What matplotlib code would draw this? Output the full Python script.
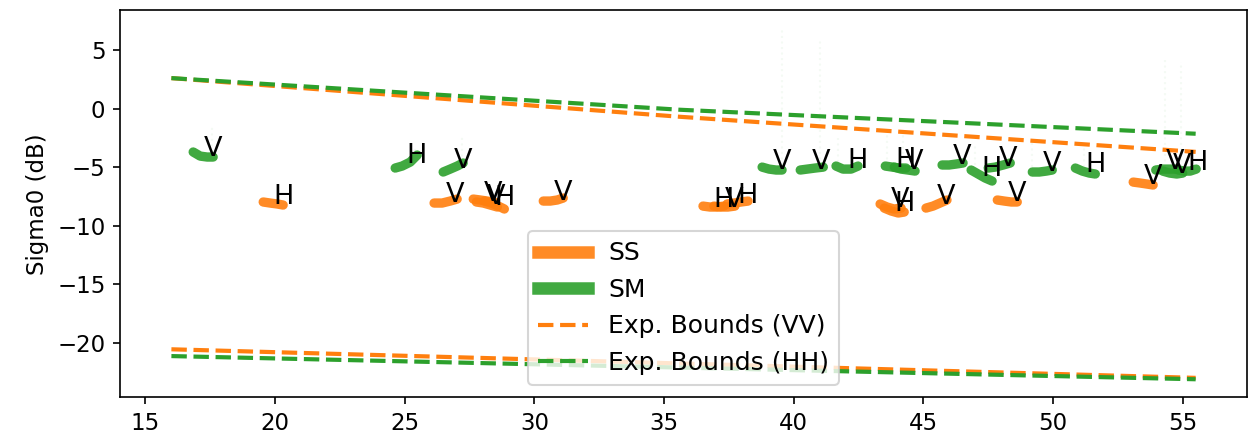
import numpy as np
import matplotlib
matplotlib.use("Agg")
import matplotlib.pyplot as plt
from matplotlib.lines import Line2D

plt.rcParams['font.size'] = 11

# tracks: sensor mode, polarisation, incidence angle and sigma0 samples
track_mode = ['SM', 'SS', 'SM', 'SM', 'SS', 'SS', 'SS', 'SS', 'SS',
              'SS', 'SS', 'SS', 'SM', 'SM', 'SM', 'SM', 'SM', 'SM',
              'SS', 'SS', 'SS', 'SM', 'SM', 'SM', 'SM', 'SS', 'SS',
              'SM', 'SM', 'SM']
track_pol = ['V', 'H', 'H', 'V', 'V', 'V', 'V', 'H', 'V',
             'H', 'V', 'H', 'V', 'V', 'H', 'H', 'V', 'V',
             'V', 'H', 'V', 'H', 'V', 'V', 'H', 'V', 'V',
             'V', 'V', 'H']
track_x = [
    [16.84, 17.11, 17.38, 17.61],
    [19.54, 19.81, 20.08, 20.31],
    [24.63, 24.90, 25.21, 25.48],
    [26.48, 26.75, 27.02, 27.25],
    [26.13, 26.44, 26.75, 27.02],
    [27.64, 27.91, 28.18, 28.45],
    [27.76, 28.03, 28.30, 28.57],
    [28.07, 28.34, 28.61, 28.84],
    [30.34, 30.61, 30.88, 31.11],
    [36.50, 36.77, 37.04, 37.31],
    [36.92, 37.19, 37.46, 37.73],
    [37.43, 37.70, 37.97, 38.24],
    [38.78, 39.05, 39.32, 39.55],
    [40.25, 40.52, 40.83, 41.14],
    [41.63, 41.90, 42.21, 42.48],
    [43.53, 43.80, 44.06, 44.33],
    [43.88, 44.14, 44.41, 44.68],
    [45.72, 45.99, 46.26, 46.53],
    [43.33, 43.60, 43.87, 44.14],
    [43.49, 43.76, 44.03, 44.26],
    [45.10, 45.37, 45.64, 45.91],
    [46.84, 47.11, 47.38, 47.65],
    [47.50, 47.77, 48.08, 48.35],
    [49.20, 49.47, 49.74, 49.97],
    [50.86, 51.13, 51.40, 51.63],
    [47.85, 48.12, 48.39, 48.62],
    [53.09, 53.36, 53.63, 53.86],
    [53.96, 54.23, 54.50, 54.73],
    [54.23, 54.50, 54.77, 55.00],
    [54.83, 55.06, 55.29, 55.52],
]
track_y = [
    [-3.71, -4.06, -4.14, -4.14],
    [-7.98, -8.07, -8.15, -8.24],
    [-5.08, -4.91, -4.57, -3.97],
    [-5.42, -5.17, -4.91, -4.65],
    [-8.07, -8.07, -7.90, -7.73],
    [-7.73, -7.81, -7.90, -7.98],
    [-7.98, -8.07, -8.24, -8.41],
    [-7.90, -8.07, -8.33, -8.58],
    [-7.90, -7.90, -7.81, -7.64],
    [-8.33, -8.41, -8.41, -8.33],
    [-8.33, -8.41, -8.41, -8.33],
    [-8.15, -8.07, -7.98, -7.90],
    [-5.00, -5.17, -5.25, -5.25],
    [-5.25, -5.17, -5.08, -5.00],
    [-4.91, -5.17, -5.17, -4.91],
    [-4.91, -5.00, -5.08, -5.08],
    [-5.00, -5.17, -5.25, -5.34],
    [-4.82, -4.82, -4.74, -4.65],
    [-8.15, -8.41, -8.58, -8.50],
    [-8.50, -8.75, -8.92, -8.84],
    [-8.50, -8.33, -8.07, -7.81],
    [-5.25, -5.59, -5.93, -6.19],
    [-5.08, -5.00, -4.82, -4.65],
    [-5.42, -5.42, -5.34, -5.25],
    [-5.08, -5.34, -5.51, -5.59],
    [-7.81, -7.90, -7.98, -7.98],
    [-6.28, -6.36, -6.45, -6.53],
    [-5.25, -5.17, -5.17, -5.17],
    [-5.34, -5.51, -5.59, -5.51],
    [-5.25, -5.34, -5.34, -5.17],
]

# faint outlier streaks above some tracks
streak_x = [17.58, 25.4, 27.2, 39.55, 41.01, 41.7, 43.6, 44.2, 47.0, 49.2, 51.2, 54.30, 54.92]
streak_top = [-1.6, -3.2, -2.4, 6.96, 5.78, -2.5, -1.8, -2.0, -3.0, -2.8, -3.0, 4.40, 3.97]
streak_bot = [-3.7, -4.6, -4.6, -4.8, -4.8, -4.6, -4.8, -4.8, -4.8, -5.0, -5.0, -5.0, -5.0]

# expected sigma0 bounds
bound_x = [16.0, 35.6, 55.5]
vv_upper = [2.6, -0.7, -3.7]
hh_upper = [2.6, -0.1, -2.15]
vv_lower = [-20.56, -21.77, -23.0]
hh_lower = [-21.14, -22.12, -23.12]

colors = {'SS': '#ff7f0e', 'SM': '#2ca02c'}

fig = plt.figure(figsize=(8.32, 2.9267), dpi=150)
ax = fig.add_axes([0.0962, 0.095, 0.9028, 0.882])

ax.vlines(streak_x, streak_bot, streak_top, color='#2ca02c', alpha=0.05,
          linewidth=1, linestyle=':')

for mode, pol, xs, ys in zip(track_mode, track_pol, track_x, track_y):
    ax.plot(xs, ys, color=colors[mode], linewidth=4.5, alpha=0.9,
            solid_capstyle='round', solid_joinstyle='round')
    ax.text(np.mean(xs), np.mean(ys), pol, fontsize=13)

ax.plot(bound_x, vv_upper, '--', color='#ff7f0e', linewidth=2)
ax.plot(bound_x, hh_upper, '--', color='#2ca02c', linewidth=2)
ax.plot(bound_x, vv_lower, '--', color='#ff7f0e', linewidth=2)
ax.plot(bound_x, hh_lower, '--', color='#2ca02c', linewidth=2)

ax.set_xlim(14.02, 57.47)
ax.set_ylim(-24.66, 8.41)
ax.set_xticks([15, 20, 25, 30, 35, 40, 45, 50, 55])
ax.set_yticks([5, 0, -5, -10, -15, -20])
ax.set_ylabel('Sigma0 (dB)')

handles = [Line2D([], [], color='#ff7f0e', linewidth=6, alpha=0.9),
           Line2D([], [], color='#2ca02c', linewidth=6, alpha=0.9),
           Line2D([], [], color='#ff7f0e', linestyle='--', linewidth=2),
           Line2D([], [], color='#2ca02c', linestyle='--', linewidth=2)]
ax.legend(handles, ['SS', 'SM', 'Exp. Bounds (VV)', 'Exp. Bounds (HH)'],
          loc='lower center', fontsize=12)

fig.savefig('out.png', dpi=150)
